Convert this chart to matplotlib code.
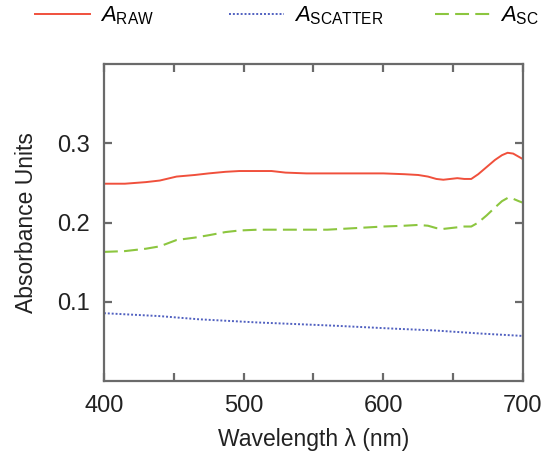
import matplotlib
matplotlib.use("Agg")
import matplotlib.pyplot as plt

plt.rcParams['font.family'] = ['Liberation Sans', 'DejaVu Sans']
plt.rcParams['mathtext.fontset'] = 'custom'
plt.rcParams['mathtext.rm'] = 'Liberation Sans'
plt.rcParams['mathtext.it'] = 'Liberation Sans:italic'
plt.rcParams['lines.scale_dashes'] = False

# Absorbance spectra (wavelength in nm)
wavelength = [400, 415, 430, 440, 452, 465, 475, 487, 497, 510, 520, 530, 545,
              560, 580, 600, 615, 625, 632, 638, 643, 648, 653, 658, 663, 668,
              674, 680, 685, 689, 693, 697, 700]
a_raw = [0.249, 0.249, 0.251, 0.253, 0.258, 0.260, 0.262, 0.264, 0.265, 0.265,
         0.265, 0.263, 0.262, 0.262, 0.262, 0.262, 0.261, 0.260, 0.258, 0.255,
         0.254, 0.255, 0.256, 0.255, 0.255, 0.261, 0.270, 0.279, 0.285, 0.288,
         0.287, 0.283, 0.280]
a_sc = [0.163, 0.164, 0.167, 0.170, 0.178, 0.181, 0.184, 0.188, 0.190, 0.191,
        0.191, 0.191, 0.191, 0.191, 0.193, 0.195, 0.196, 0.197, 0.196, 0.193,
        0.192, 0.193, 0.194, 0.195, 0.195, 0.200, 0.209, 0.219, 0.227, 0.231,
        0.230, 0.227, 0.225]
wavelength_scatter = [400, 440, 468, 510, 564, 610, 636, 670, 700]
a_scatter = [0.0857, 0.082, 0.078, 0.074, 0.070, 0.066, 0.064, 0.060, 0.057]

labels = [r'$A_{\mathrm{RAW}}$', r'$A_{\mathrm{SCATTER}}$', r'$A_{\mathrm{SC}}$']
colors = ['#f0503c', '#5060c0', '#8cc63f']

x_ticks = [400, 450, 500, 550, 600, 650, 700]
x_ticklabels = ['400', '', '500', '', '600', '', '700']
y_ticks = [0.1, 0.2, 0.3]
y_ticklabels = ['0.1', '0.2', '0.3']

fig = plt.figure(figsize=(5.47, 4.57), dpi=100)
ax = fig.add_axes([0.190, 0.166, 0.766, 0.694])

l1, = ax.plot(wavelength, a_raw, color=colors[0], lw=1.4, label=labels[0])
l2, = ax.plot(wavelength_scatter, a_scatter, color=colors[1], lw=1.4,
              dashes=(1.4, 1.4), label=labels[1])
l3, = ax.plot(wavelength, a_sc, color=colors[2], lw=1.5,
              dashes=(10.0, 4.5), label=labels[2])

ax.set_xlim(400, 700)
ax.set_ylim(0.0, 0.4)
ax.set_xticks(x_ticks)
ax.set_xticklabels(x_ticklabels)
ax.set_yticks(y_ticks)
ax.set_yticklabels(y_ticklabels)

for s in ax.spines.values():
    s.set_color('#6a6a6a')
    s.set_linewidth(1.6)
ax.tick_params(direction='in', length=6, width=1.6, color='#6a6a6a',
               top=True, right=True, labelsize=17, labelcolor='#222222', pad=10)

ax.set_xlabel('Wavelength λ (nm)', fontsize=16.5, color='#222222', labelpad=8)
ax.set_ylabel('Absorbance Units', fontsize=16.5, color='#222222', labelpad=14)

# one legend entry per series, spread across the top of the figure
legend_x = [35 / 547, 229 / 547, 435 / 547]
for handle, lx in zip([l1, l2, l3], legend_x):
    fig.legend(handles=[handle], loc='center left',
               bbox_to_anchor=(lx, 1 - 16 / 457), frameon=False,
               fontsize=16, handlelength=2.475, handletextpad=0.45,
               borderaxespad=0, borderpad=0)

fig.savefig('out.png', dpi=100)
